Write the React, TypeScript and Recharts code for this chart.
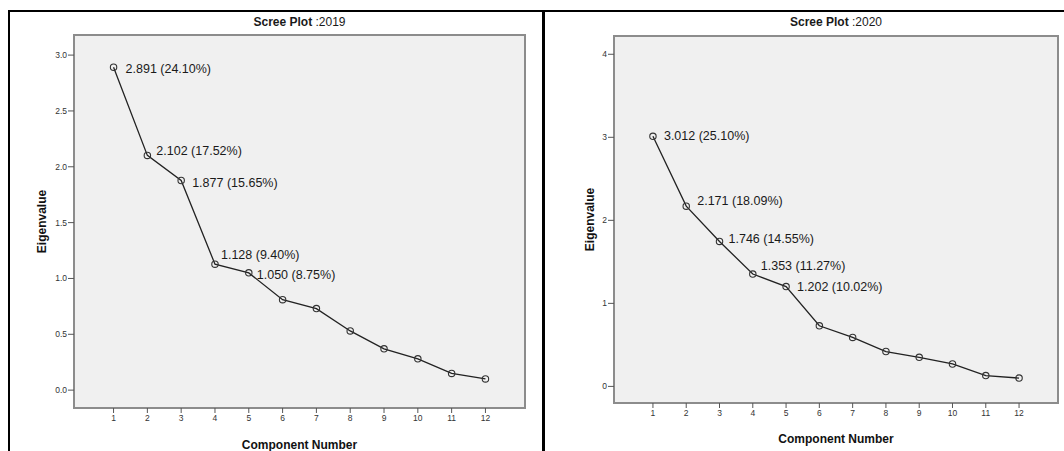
import React from "react";
import { LabelList, Line, LineChart, ReferenceArea, XAxis, YAxis } from "recharts";

const components = [1, 2, 3, 4, 5, 6, 7, 8, 9, 10, 11, 12];

const eigen2019 = [2.891, 2.102, 1.877, 1.128, 1.05, 0.81, 0.73, 0.53, 0.37, 0.28, 0.15, 0.1];
const pct2019 = [24.1, 17.52, 15.65, 9.4, 8.75];
const yTicks2019 = [0, 0.5, 1, 1.5, 2, 2.5, 3];

const eigen2020 = [3.012, 2.171, 1.746, 1.353, 1.202, 0.73, 0.59, 0.42, 0.35, 0.27, 0.13, 0.1];
const pct2020 = [25.1, 18.09, 14.55, 11.27, 10.02];
const yTicks2020 = [0, 1, 2, 3, 4];

// small per-label nudges [dx, dy] so text sits like the SPSS output
const nudge2019 = [[12, 2], [9, -4], [11, 2], [6, -9], [8, 2]];
const nudge2020 = [[11, 0], [11, -5], [9, -2], [8, -8], [11, 0]];

const xDomain: [number, number] = [-0.17, 13.17];
const font = "'Liberation Sans', Arial, sans-serif";

function buildRows(values: number[], pct: number[]) {
  return components.map((c, i) => ({
    comp: c,
    value: values[i],
    label: i < pct.length ? `${values[i].toFixed(3)} (${pct[i].toFixed(2)}%)` : ""
  }));
}

type PlotProps = {
  year: string;
  values: number[];
  pct: number[];
  yTicks: number[];
  yDomain: [number, number];
  decimals: number;
  nudge: number[][];
  left: number;
  width: number;
  yAxisWidth: number;
  top: number;
  xAxisHeight: number;
  right: number;
  xLabelOffset: number;
  yLabelX: number;
};

function ScreePlot(p: PlotProps) {
  const rows = buildRows(p.values, p.pct);
  const plotLeft = p.yAxisWidth;
  const plotWidth = p.width - p.yAxisWidth - p.right;

  return (
    <div style={{ position: "absolute", left: p.left, top: 0, width: p.width, height: 451 }}>
      <div
        style={{
          position: "absolute",
          left: plotLeft,
          width: plotWidth,
          top: 15,
          textAlign: "center",
          fontFamily: font,
          fontSize: 12,
          color: "#1a1a1a",
          lineHeight: "14px"
        }}
      >
        <b>Scree Plot</b> :{p.year}
      </div>
      <LineChart
        width={p.width}
        height={451}
        data={rows}
        margin={{ top: p.top, right: p.right, bottom: 0, left: 0 }}
      >
        <XAxis
          dataKey="comp"
          type="number"
          domain={xDomain}
          ticks={components}
          interval={0}
          allowDataOverflow
          axisLine={false}
          tickLine={{ stroke: "#555" }}
          tickSize={5}
          tickMargin={2}
          height={p.xAxisHeight}
          tick={{ fill: "#333", fontSize: 8.5, fontFamily: font }}
          label={{
            value: "Component Number",
            position: "insideBottom",
            offset: p.xLabelOffset,
            style: { fontFamily: font, fontSize: 12, fontWeight: 700, fill: "#111" }
          }}
        />
        <YAxis
          type="number"
          domain={p.yDomain}
          ticks={p.yTicks}
          allowDataOverflow
          axisLine={false}
          tickLine={{ stroke: "#555" }}
          tickSize={6}
          tickMargin={1}
          width={p.yAxisWidth}
          tickFormatter={(v) => Number(v).toFixed(p.decimals)}
          tick={{ fill: "#333", fontSize: 8.5, fontFamily: font }}
          label={{
            value: "Eigenvalue",
            content: (props: any) => {
              const vb = props.viewBox || {};
              const cx = (vb.x ?? 0) + p.yLabelX;
              const cy = (vb.y ?? 0) + (vb.height ?? 0) / 2;
              return (
                <text
                  x={cx}
                  y={cy}
                  transform={`rotate(-90 ${cx} ${cy})`}
                  textAnchor="middle"
                  dominantBaseline="central"
                  style={{ fontFamily: font, fontSize: 12, fontWeight: 700, fill: "#111" }}
                >
                  Eigenvalue
                </text>
              );
            }
          }}
        />
        <ReferenceArea
          x1={xDomain[0]}
          x2={xDomain[1]}
          y1={p.yDomain[0]}
          y2={p.yDomain[1]}
          ifOverflow="visible"
          fill="#f0f0f0"
          fillOpacity={1}
          stroke="#8c8c8c"
          strokeWidth={2}
        />
        <Line
          type="linear"
          dataKey="value"
          stroke="#222"
          strokeWidth={1.3}
          dot={{ r: 3.2, stroke: "#333", strokeWidth: 1.1, fill: "none" }}
          activeDot={false}
          isAnimationActive={false}
        >
          <LabelList
            dataKey="label"
            content={(props: any) => {
              const { x, y, value, index } = props;
              if (!value) return null;
              const [dx, dy] = p.nudge[index] || [10, 0];
              return (
                <text
                  x={Number(x) + dx}
                  y={Number(y) + dy}
                  dominantBaseline="central"
                  style={{ fontFamily: font, fontSize: 12.5, fill: "#1a1a1a" }}
                >
                  {value}
                </text>
              );
            }}
          />
        </Line>
      </LineChart>
    </div>
  );
}

export default function App() {
  return (
    <div style={{ position: "absolute", left: 0, top: 0, width: 1064, height: 451, background: "#fff", overflow: "hidden" }}>
      <div
        style={{
          position: "absolute",
          left: 8,
          top: 10,
          width: 532,
          height: 450,
          borderTop: "2px solid #000",
          borderLeft: "2px solid #000",
          borderRight: "3px solid #000"
        }}
      />
      <div style={{ position: "absolute", left: 545, top: 10, width: 519, height: 2, background: "#000" }} />
      <ScreePlot
        year="2019"
        values={eigen2019}
        pct={pct2019}
        yTicks={yTicks2019}
        yDomain={[-0.16, 3.18]}
        decimals={1}
        nudge={nudge2019}
        left={0}
        width={543}
        yAxisWidth={74}
        top={35}
        xAxisHeight={43}
        right={18}
        xLabelOffset={2}
        yLabelX={42}
      />
      <ScreePlot
        year="2020"
        values={eigen2020}
        pct={pct2020}
        yTicks={yTicks2020}
        yDomain={[-0.2, 4.22]}
        decimals={0}
        nudge={nudge2020}
        left={545}
        width={519}
        yAxisWidth={69}
        top={36}
        xAxisHeight={48}
        right={6}
        xLabelOffset={8}
        yLabelX={45}
      />
    </div>
  );
}
